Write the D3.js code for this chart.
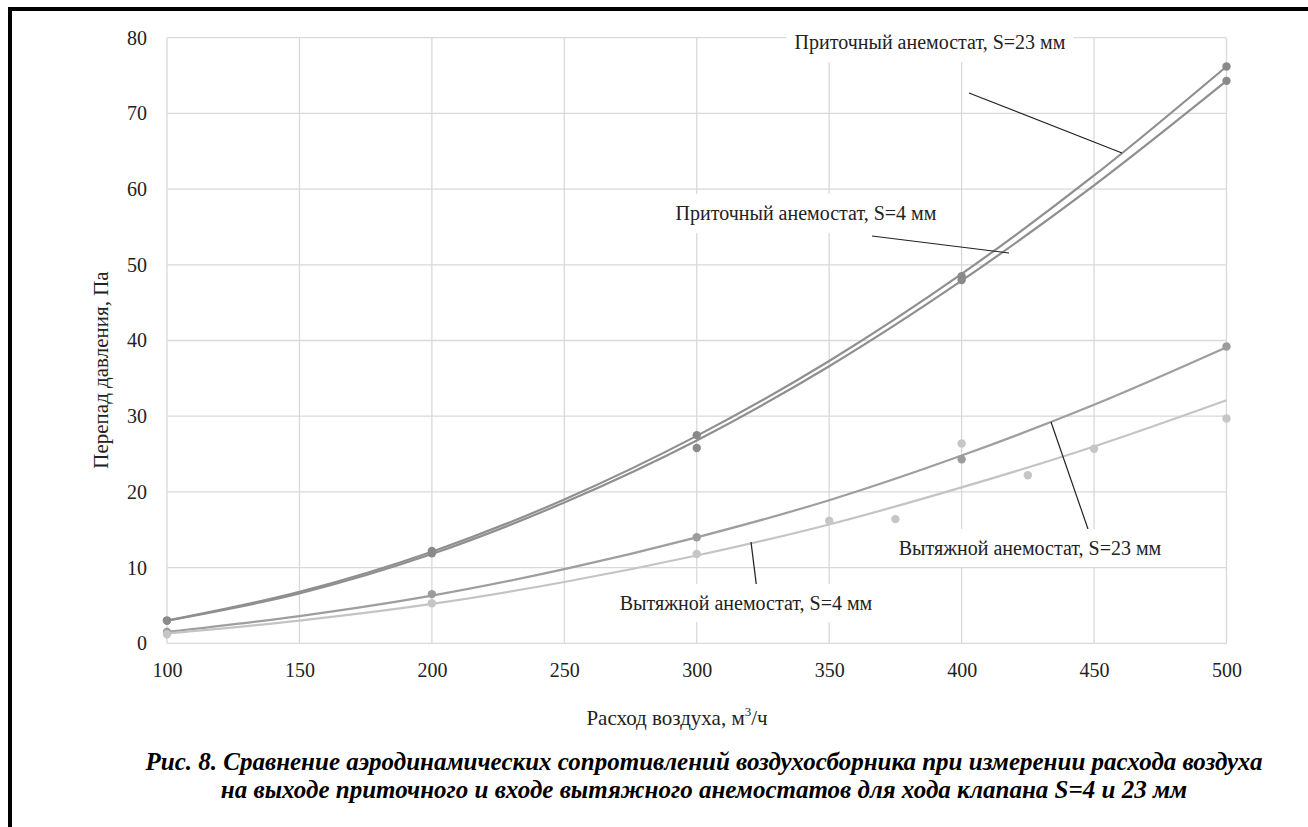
<!DOCTYPE html>
<html>
<head>
<meta charset="utf-8">
<script src="https://cdn.jsdelivr.net/npm/d3@7"></script>
<style>
  body { margin: 0; background: #fff; }
  svg { display: block; }
  svg text { font-family: "Liberation Serif", "Times New Roman", serif; }
</style>
</head>
<body>
<svg id="chart" width="1308" height="827"></svg>
<script>
// measured points (x = air flow, m3/h)
const xPts = [100, 200, 300, 400, 500];
const supply23 = [3.0, 12.2, 27.5, 48.5, 76.2];
const supply4 = [3.0, 11.9, 25.8, 48.0, 74.3];
const exhaust23 = [1.5, 6.5, 14.0, 24.3, 39.2];
const exhaust4X = [100, 200, 300, 350, 375, 400, 425, 450, 500];
const exhaust4 = [1.2, 5.3, 11.8, 16.2, 16.4, 26.4, 22.2, 25.7, 29.7];

// trend lines
const trendX = [100, 150, 200, 250, 300, 350, 400, 450, 500];
const trendSupply23 = [3.0, 6.8, 12.1, 19.0, 27.4, 37.3, 48.8, 61.8, 76.2];
const trendSupply4 = [3.0, 6.6, 11.8, 18.6, 26.8, 36.6, 47.9, 60.5, 74.3];
const trendExhaust23 = [1.5, 3.6, 6.3, 9.8, 14.0, 18.9, 24.8, 31.5, 39.1];
const trendExhaust4 = [1.3, 3.0, 5.2, 8.1, 11.6, 15.7, 20.6, 26.0, 32.1];

const xTicks = [100, 150, 200, 250, 300, 350, 400, 450, 500];
const yTicks = [0, 10, 20, 30, 40, 50, 60, 70, 80];

const svg = d3.select('#chart');

// frame: top and left only
svg.append('line').attr('x1', 8).attr('x2', 1308).attr('y1', 9).attr('y2', 9)
  .attr('stroke', '#000').attr('stroke-width', 4);
svg.append('line').attr('x1', 10).attr('x2', 10).attr('y1', 7).attr('y2', 827)
  .attr('stroke', '#000').attr('stroke-width', 4);

const x = d3.scaleLinear().domain([100, 500]).range([167, 1226.5]);
const y = d3.scaleLinear().domain([0, 80]).range([643.3, 37.7]);

// grid
const grid = svg.append('g');
grid.selectAll('.gx').data(xTicks).join('line')
  .attr('x1', d => x(d)).attr('x2', d => x(d))
  .attr('y1', y(0)).attr('y2', y(80))
  .attr('stroke', '#d9d9d9').attr('stroke-width', 1.3);
grid.selectAll('.gy').data(yTicks).join('line')
  .attr('x1', x(100)).attr('x2', x(500))
  .attr('y1', d => y(d)).attr('y2', d => y(d))
  .attr('stroke', '#d9d9d9').attr('stroke-width', 1.3);

// axes (labels only)
const xAxis = svg.append('g').attr('transform', `translate(0,${y(0)})`)
  .call(d3.axisBottom(x).tickValues(xTicks).tickSize(0).tickPadding(20));
const yAxis = svg.append('g').attr('transform', `translate(${x(100)},0)`)
  .call(d3.axisLeft(y).tickValues(yTicks).tickSize(0).tickPadding(20));
[xAxis, yAxis].forEach(a => {
  a.select('.domain').remove();
  a.attr('font-size', null).attr('font-family', null);
  a.selectAll('text').style('font-size', '20px').attr('fill', '#222');
});

// axis titles
const xt = svg.append('text').attr('x', 677).attr('y', 725).attr('text-anchor', 'middle')
  .style('font-size', '21px').attr('fill', '#222');
xt.append('tspan').text('Расход воздуха, м');
xt.append('tspan').style('font-size', '13px').attr('dy', -9).text('3');
xt.append('tspan').attr('dy', 9).text('/ч');

svg.append('text').attr('transform', 'translate(108,370) rotate(-90)')
  .attr('text-anchor', 'middle').style('font-size', '21px').attr('fill', '#222')
  .text('Перепад давления, Па');

// trend lines
const line = d3.line().x(d => x(d[0])).y(d => y(d[1])).curve(d3.curveMonotoneX);
const trends = [
  { v: trendSupply23, c: '#8f8f8f' },
  { v: trendSupply4, c: '#8f8f8f' },
  { v: trendExhaust23, c: '#9e9e9e' },
  { v: trendExhaust4, c: '#c4c4c4' }
];
trends.forEach(t => {
  svg.append('path').datum(trendX.map((d, i) => [d, t.v[i]]))
    .attr('d', line).attr('fill', 'none').attr('stroke', t.c).attr('stroke-width', 2.2);
});

// points
const pts = [
  { xs: xPts, v: supply23, c: '#8a8a8a' },
  { xs: xPts, v: supply4, c: '#8a8a8a' },
  { xs: xPts, v: exhaust23, c: '#9c9c9c' },
  { xs: exhaust4X, v: exhaust4, c: '#c6c6c6' }
];
pts.forEach(p => {
  svg.append('g').selectAll('circle').data(p.xs.map((d, i) => [d, p.v[i]])).join('circle')
    .attr('cx', d => x(d[0])).attr('cy', d => y(d[1])).attr('r', 4.2).attr('fill', p.c);
});

// callouts
const callouts = [
  { t: 'Приточный анемостат, S=23 мм', tx: 930, ty: 42, l: [[969, 93], [1122, 153]] },
  { t: 'Приточный анемостат, S=4 мм', tx: 806, ty: 213, l: [[872, 236], [1009, 253]] },
  { t: 'Вытяжной анемостат, S=23 мм', tx: 1030, ty: 548, l: [[1051, 422], [1088, 529]] },
  { t: 'Вытяжной анемостат, S=4 мм', tx: 746, ty: 603, l: [[751, 542], [757, 590]] }
];
callouts.forEach(c => {
  svg.append('line').attr('x1', c.l[0][0]).attr('y1', c.l[0][1])
    .attr('x2', c.l[1][0]).attr('y2', c.l[1][1]).attr('stroke', '#222').attr('stroke-width', 1.2);
  const g = svg.append('g');
  const txt = g.append('text').attr('x', c.tx).attr('y', c.ty).attr('dy', '0.35em')
    .attr('text-anchor', 'middle').style('font-size', '20px').attr('fill', '#222').text(c.t);
  const bb = txt.node().getBBox();
  g.insert('rect', 'text').attr('x', bb.x - 8).attr('y', bb.y - 8)
    .attr('width', bb.width + 16).attr('height', bb.height + 16).attr('fill', '#fff');
});

// caption
const caption = [
  'Рис. 8. Сравнение аэродинамических сопротивлений воздухосборника при измерении расхода воздуха',
  'на выходе приточного и входе вытяжного анемостатов для хода клапана S=4 и 23 мм'
];
svg.append('g').selectAll('text').data(caption).join('text')
  .attr('x', 704).attr('y', (d, i) => 770 + i * 28)
  .attr('text-anchor', 'middle').style('font-size', '25px')
  .attr('font-weight', 'bold').attr('font-style', 'italic').attr('fill', '#000')
  .text(d => d);
</script>
</body>
</html>
